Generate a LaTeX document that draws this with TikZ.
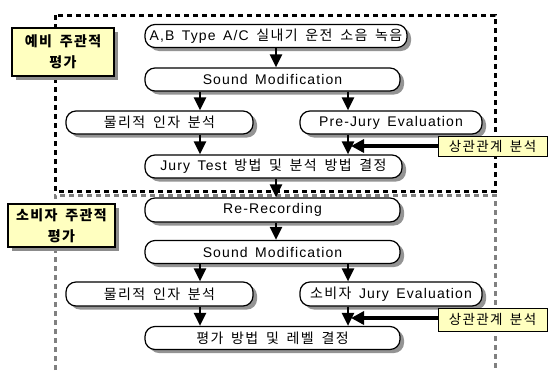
\documentclass[tikz,border=0pt]{standalone}
\usepackage{fontspec}
\setmainfont{Liberation Sans}[LetterSpace=8, WordSpace=1.5]
\newfontfamily\hangul{Noto Sans CJK KR}[LetterSpace=10, WordSpace=1.7]
\newcommand{\ko}[1]{{\hangul #1}}
\usetikzlibrary{arrows.meta,shadows}
\definecolor{notefill}{RGB}{255,255,192}
\tikzset{
  stepbox/.style={draw=black, line width=1.2pt, fill=white, rounded corners=10pt,
    minimum height=23pt, inner sep=0pt,
    font=\fontsize{14}{15}\selectfont,
    drop shadow={shadow xshift=4pt, shadow yshift=-3.5pt, fill=black!42, opacity=1}},
  titlebox/.style={draw=black, line width=1.6pt, fill=notefill, inner sep=0pt,
    align=center, font=\fontsize{14}{21}\selectfont\bfseries,
    drop shadow={shadow xshift=4pt, shadow yshift=-4pt, fill=black!45, opacity=1}},
  notebox/.style={draw=black, line width=0.6pt, fill=notefill, inner sep=0pt,
    font=\fontsize{13.5}{15}\selectfont},
  flow/.style={line width=2.4pt, -{Triangle[width=12pt,length=13pt]}},
  feed/.style={line width=4pt, -{Triangle[width=13pt,length=13pt]}},
  phase/.style={line width=3pt, dash pattern=on 5pt off 4pt}
}
\begin{document}
\begin{tikzpicture}[x=1pt,y=-1pt]
\useasboundingbox (0,0) rectangle (548,370);
\fill[white] (0,0) rectangle (548,370);

% phase frames
\draw[phase, black] (55,15) rectangle (495,191);
\draw[phase, black!50] (55,370) -- (55,195) -- (495,195) -- (495,370);

% column guides for the arrows
\coordinate (cM) at (276,0);
\coordinate (cL) at (200,0);
\coordinate (cR) at (348,0);
\coordinate (tipA) at (351,146);
\coordinate (tipB) at (351,318);

% phase titles
\node[titlebox, minimum width=102pt, minimum height=48pt] (t1) at (63,52) {\ko{예비 주관적}\\\ko{평가}};
\node[titlebox, minimum width=107pt, minimum height=43pt] (t2) at (61.5,225.5) {\ko{소비자 주관적}\\\ko{평가}};

% first phase
\node[stepbox, minimum width=262pt] (a1) at (276,36) {A,B Type A/C \ko{실내기 운전 소음 녹음}};
\node[stepbox, minimum width=255pt] (a2) at (272.5,79.5) {Sound Modification};
\node[stepbox, minimum width=187pt] (a3) at (159.5,122.5) {\ko{물리적 인자 분석}};
\node[stepbox, minimum width=182pt] (a4) at (391,122.5) {Pre-Jury Evaluation};
\node[stepbox, minimum width=257pt] (a5) at (273.5,166.5) {Jury Test \ko{방법 및 분석 방법 결정}};
\node[notebox, minimum width=109pt, minimum height=20pt] (r1) at (492.5,146) {\ko{상관관계 분석}};

% second phase
\node[stepbox, minimum width=255pt, minimum height=24pt] (b1) at (272.5,210) {Re-Recording};
\node[stepbox, minimum width=255pt] (b2) at (272.5,252) {Sound Modification};
\node[stepbox, minimum width=187pt, minimum height=24pt] (b3) at (159.5,294) {\ko{물리적 인자 분석}};
\node[stepbox, minimum width=182pt, minimum height=24pt] (b4) at (391,294) {\ko{소비자} Jury Evaluation};
\node[stepbox, minimum width=255pt] (b5) at (272.5,338) {\ko{평가 방법 및 레벨 결정}};
\node[notebox, minimum width=109pt, minimum height=23pt] (r2) at (492.5,319.5) {\ko{상관관계 분석}};

% connectors
\draw[flow] (a1.south -| cM) -- (a2.north -| cM);
\draw[flow] (a2.south -| cL) -- (a3.north -| cL);
\draw[flow] (a2.south -| cR) -- (a4.north -| cR);
\draw[flow] (a3.south -| cL) -- (a5.north -| cL);
\draw[flow] (a4.south -| cR) -- (a5.north -| cR);
\draw[feed] (r1.west |- tipA) -- (tipA);
\draw[flow] (a5.south -| cM) -- (b1.north -| cM);
\draw[flow] (b1.south -| cM) -- (b2.north -| cM);
\draw[flow] (b2.south -| cL) -- (b3.north -| cL);
\draw[flow] (b2.south -| cR) -- (b4.north -| cR);
\draw[flow] (b3.south -| cL) -- (b5.north -| cL);
\draw[flow] (b4.south -| cR) -- (b5.north -| cR);
\draw[feed] (r2.west |- tipB) -- (tipB);
\end{tikzpicture}
\end{document}
